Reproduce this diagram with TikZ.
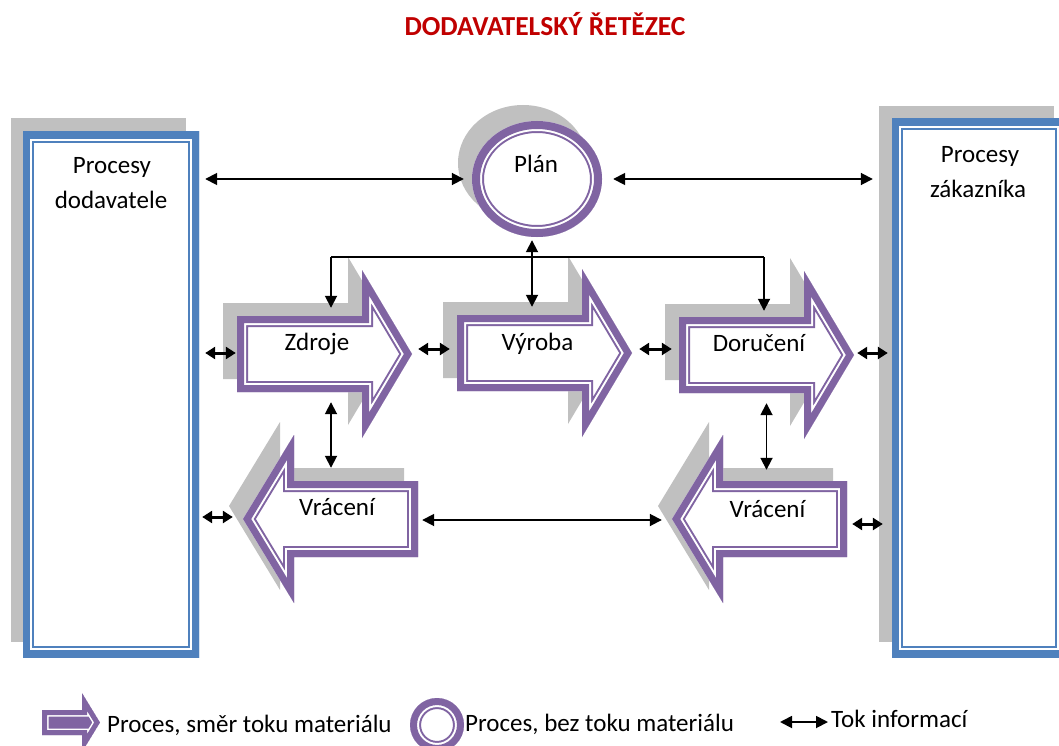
\documentclass[tikz,border=0pt]{standalone}
\usepackage{fontspec}
\setmainfont{Carlito}
\usetikzlibrary{arrows.meta,shapes.geometric}

\definecolor{purp}{RGB}{128,100,162}
\definecolor{boxblue}{RGB}{79,129,189}
\definecolor{shadowgrey}{RGB}{192,192,192}
\definecolor{titlered}{RGB}{192,0,0}

% outline of a right-pointing process arrow, left end #1, centre line #2
\newcommand\rarrowpath[2]{(#1,#2-38) -- (#1+125,#2-38) -- (#1+125,#2-84) -- (#1+175,#2) -- (#1+125,#2+84) -- (#1+125,#2+38) -- (#1,#2+38) -- cycle}
% outline of a left-pointing process arrow, tip at #1, centre line #2
\newcommand\larrowpath[2]{(#1,#2) -- (#1+51,#2-84) -- (#1+51,#2-38) -- (#1+175,#2-38) -- (#1+175,#2+38) -- (#1+51,#2+38) -- (#1+51,#2+84) -- cycle}

% thick-thin compound border drawn inside the outline #2 in colour #1
\newcommand\bandfill[5]{%
  \begin{scope}
    \clip #2;
    \fill[white] #2;
    \draw[#1, line width=#3, line join=miter] #2;
    \draw[white, line width=#4, line join=miter] #2;
    \draw[#1, line width=#5, line join=miter] #2;
  \end{scope}}

\begin{document}
\begin{tikzpicture}[x=1pt,y=-1pt,
  lbl/.style={anchor=base, inner sep=0pt, font=\fontsize{25}{30}\selectfont, text=black},
  proc/.style={draw=none, inner sep=0pt, minimum width=175pt, minimum height=76pt},
  link/.style={line width=1.8pt, {Triangle[length=12pt,width=12pt]}-{Triangle[length=12pt,width=12pt]}},
  slink/.style={line width=3pt, {Triangle[length=10pt,width=12pt]}-{Triangle[length=10pt,width=12pt]}},
  down/.style={line width=1.8pt, -{Triangle[length=12pt,width=12pt]}}]

\useasboundingbox (0,0) rectangle (1059,746);
\clip (0,0) rectangle (1059,746);

% title
\node[anchor=base, inner sep=0pt, font=\bfseries\fontsize{27.5}{32}\selectfont, text=titlered] (title) at (545,36) {DODAVATELSKÝ ŘETĚZEC};

% supplier and customer boxes
\fill[shadowgrey] (11,118) rectangle (186,642);
\bandfill{boxblue}{(23,132) rectangle (199,657)}{22}{18}{14}
\node[draw=none, inner sep=0pt, minimum width=176pt, minimum height=525pt] (sup) at (111,394.5) {};
\node[lbl] (sup-a) at (112,174) {Procesy};
\node[lbl] (sup-b) at (111,208) {dodavatele};

\fill[shadowgrey] (879,106) rectangle (1054,642);
\bandfill{boxblue}{(892,119) rectangle (1066,657)}{22}{18}{14}
\node[draw=none, inner sep=0pt, minimum width=174pt, minimum height=538pt] (cust) at (979,388) {};
\node[lbl] (cust-a) at (980,163) {Procesy};
\node[lbl] (cust-b) at (978,197) {zákazníka};

% plan
\fill[shadowgrey] (523,163) ellipse [x radius=65pt, y radius=58pt];
\bandfill{purp}{(537,179) ellipse [x radius=65pt, y radius=58pt]}{24}{20}{16}
\node[ellipse, draw=none, inner sep=0pt, minimum width=130pt, minimum height=116pt] (plan) at (537,179) {};
\node[lbl] (plan-t) at (536,172) {Plán};

% material-flow processes
\fill[shadowgrey, shift={(-14,-13)}] \rarrowpath{237}{354};
\bandfill{purp}{\rarrowpath{237}{354}}{22}{18}{14}
\node[proc] (zdr) at (324.5,354) {};
\node[lbl] (zdr-t) at (317,350) {Zdroje};

\fill[shadowgrey, shift={(-14,-13)}] \rarrowpath{457}{353};
\bandfill{purp}{\rarrowpath{457}{353}}{22}{18}{14}
\node[proc] (vyr) at (544.5,353) {};
\node[lbl] (vyr-t) at (537.5,350) {Výroba};

\fill[shadowgrey, shift={(-14,-13)}] \rarrowpath{679}{355};
\bandfill{purp}{\rarrowpath{679}{355}}{22}{18}{14}
\node[proc] (dor) at (766.5,355) {};
\node[lbl] (dor-t) at (759,351) {Doručení};

\fill[shadowgrey, shift={(-14,-13)}] \larrowpath{243}{519};
\bandfill{purp}{\larrowpath{243}{519}}{22}{18}{14}
\node[proc] (vrl) at (330.5,519) {};
\node[lbl] (vrl-t) at (337,515) {Vrácení};

\fill[shadowgrey, shift={(-14,-13)}] \larrowpath{672}{519};
\bandfill{purp}{\larrowpath{672}{519}}{22}{18}{14}
\node[proc] (vrr) at (759.5,519) {};
\node[lbl] (vrr-t) at (767.5,517) {Vrácení};

% information flows
\draw[link, shorten <=6pt, shorten >=8pt] (plan.west -| sup.east) -- (plan.west);
\draw[link, shorten <=11pt, shorten >=19pt] (plan.east) -- (plan.east -| cust.west);

\coordinate (busL) at (331,257);
\coordinate (busR) at (764,257);
\draw[line width=1.8pt] (busL) -- (busR);
\draw[down, shorten >=8pt] (busL) -- (busL |- zdr.north);
\draw[down, shorten >=6pt] (busR) -- (busR |- dor.north);
\draw[link, shorten <=3pt, shorten >=8pt] ([xshift=-5pt]plan.south) -- ([xshift=-5pt]plan.south |- vyr.north);

\draw[slink, shorten <=6pt, shorten >=1pt] ([yshift=1pt]zdr.west -| sup.east) -- ([yshift=1pt]zdr.west);
\draw[slink, shorten <=6pt, shorten >=7pt] ([yshift=5pt]zdr.east) -- ([yshift=5pt]zdr.east -| vyr.west);
\draw[slink, shorten <=7pt, shorten >=7pt] ([yshift=4pt]vyr.east) -- ([yshift=4pt]vyr.east -| dor.west);
\draw[slink, shorten <=3pt, shorten >=4pt] ([yshift=2pt]dor.east) -- ([yshift=2pt]dor.east -| cust.west);
\draw[slink, shorten <=3pt, shorten >=10pt] ([yshift=2pt]vrl.west -| sup.east) -- ([yshift=2pt]vrl.west);
\draw[slink, shorten <=5pt, shorten >=9pt] ([yshift=-5pt]vrr.east) -- ([yshift=-5pt]vrr.east -| cust.west);
\draw[link, shorten <=4pt, shorten >=10pt] ([yshift=-1pt]vrl.east) -- ([yshift=-1pt]vrr.west);

\draw[link, shorten <=10pt, shorten >=13pt] ([xshift=6.5pt]zdr.south) -- ([xshift=6.5pt]zdr.south |- vrl.north);
\draw[link, shorten <=10pt, shorten >=11pt] (dor.south) -- (dor.south |- vrr.north);

% legend
\begin{scope}
  \clip (42,710) -- (82,710) -- (82,693) -- (100,722.5) -- (82,752) -- (82,735) -- (42,735) -- cycle;
  \fill[purp] (42,710) -- (82,710) -- (82,693) -- (100,722.5) -- (82,752) -- (82,735) -- (42,735) -- cycle;
  \draw[white, line width=13pt, line join=miter] (42,710) -- (82,710) -- (82,693) -- (100,722.5) -- (82,752) -- (82,735) -- (42,735) -- cycle;
  \draw[purp, line width=10pt, line join=miter] (42,710) -- (82,710) -- (82,693) -- (100,722.5) -- (82,752) -- (82,735) -- (42,735) -- cycle;
\end{scope}
\node[lbl, anchor=base west] (leg-a) at (107,732) {Proces, směr toku materiálu};

\bandfill{purp}{(437,725) circle [radius=27pt]}{22}{18}{14}
\node[lbl, anchor=base west] (leg-b) at (465,731) {Proces, bez toku materiálu};

\coordinate (lgA) at (780,722);
\coordinate (lgB) at (828,722);
\draw[link] (lgA) -- (lgB);
\node[lbl, anchor=base west] (leg-c) at (831,727) {Tok informací};

\end{tikzpicture}
\end{document}
